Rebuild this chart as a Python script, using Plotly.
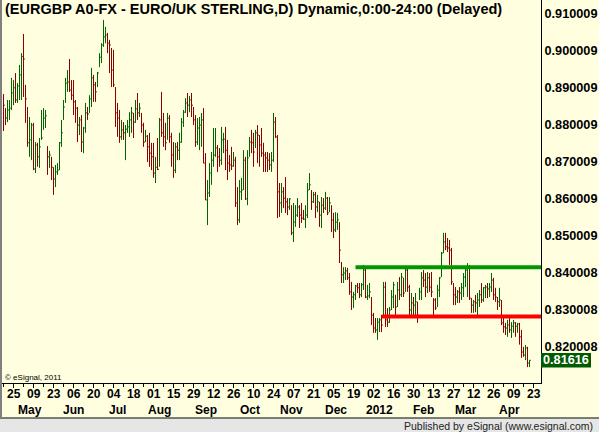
import plotly.graph_objects as go
import pandas as pd

# ---------------- data ----------------
START = "2011-04-18"
CAL_END = "2012-04-30"

HIGH = [
0.8883,0.8845,0.8867,0.8867,0.8927,0.8921,0.8940,0.8913,0.8962,0.8994,
0.9046,0.8908,0.8848,0.8821,0.8805,0.8805,0.8753,0.8751,0.8764,0.8840,
0.8845,0.8840,0.8742,0.8729,0.8713,0.8685,0.8691,0.8696,0.8753,0.8813,
0.8867,0.8927,0.8948,0.8978,0.8921,0.8921,0.8867,0.8848,0.8821,0.8826,
0.8794,0.8859,0.8848,0.8880,0.8954,0.8935,0.8916,0.8943,0.8994,0.9021,
0.9084,0.9065,0.9049,0.9030,0.9008,0.9003,0.8902,0.8859,0.8840,0.8813,
0.8807,0.8799,0.8813,0.8834,0.8848,0.8832,0.8867,0.8886,0.8859,0.8832,
0.8805,0.8786,0.8772,0.8778,0.8751,0.8751,0.8713,0.8764,0.8818,0.8889,
0.8832,0.8805,0.8832,0.8826,0.8778,0.8753,0.8751,0.8753,0.8778,0.8818,
0.8840,0.8872,0.8886,0.8878,0.8886,0.8848,0.8826,0.8818,0.8821,0.8832,
0.8845,0.8723,0.8650,0.8696,0.8726,0.8791,0.8791,0.8745,0.8737,0.8794,
0.8778,0.8794,0.8759,0.8718,0.8740,0.8726,0.8713,0.8631,0.8650,0.8656,
0.8731,0.8713,0.8731,0.8767,0.8786,0.8778,0.8786,0.8799,0.8772,0.8791,
0.8751,0.8726,0.8726,0.8723,0.8726,0.8832,0.8821,0.8772,0.8642,0.8642,
0.8631,0.8658,0.8601,0.8601,0.8582,0.8588,0.8582,0.8601,0.8582,0.8588,
0.8569,0.8582,0.8642,0.8669,0.8623,0.8618,0.8618,0.8610,0.8591,0.8604,
0.8601,0.8618,0.8604,0.8604,0.8582,0.8561,0.8563,0.8561,0.8536,0.8428,
0.8414,0.8414,0.8412,0.8398,0.8374,0.8347,0.8366,0.8371,0.8371,0.8371,
0.8420,0.8414,0.8366,0.8371,0.8333,0.8290,0.8276,0.8276,0.8276,0.8284,
0.8374,0.8374,0.8303,0.8306,0.8352,0.8374,0.8339,0.8374,0.8387,0.8398,
0.8385,0.8412,0.8412,0.8366,0.8344,0.8333,0.8344,0.8320,0.8358,0.8401,
0.8406,0.8398,0.8401,0.8398,0.8401,0.8330,0.8330,0.8366,0.8387,0.8455,
0.8507,0.8507,0.8493,0.8488,0.8466,0.8371,0.8360,0.8352,0.8360,0.8371,
0.8398,0.8414,0.8425,0.8420,0.8330,0.8325,0.8339,0.8344,0.8352,0.8371,
0.8360,0.8366,0.8371,0.8371,0.8398,0.8385,0.8358,0.8333,0.8358,0.8325,
0.8279,0.8263,0.8271,0.8276,0.8265,0.8271,0.8265,0.8263,0.8263,0.8244,
0.8198,0.8203,0.8198,0.8162,
]

LOW = [
0.8783,0.8799,0.8807,0.8813,0.8840,0.8853,0.8859,0.8859,0.8867,0.8867,
0.8875,0.8805,0.8740,0.8713,0.8704,0.8677,0.8669,0.8686,0.8683,0.8759,
0.8786,0.8791,0.8664,0.8683,0.8650,0.8610,0.8631,0.8664,0.8677,0.8740,
0.8813,0.8859,0.8889,0.8889,0.8867,0.8826,0.8805,0.8753,0.8772,0.8726,
0.8723,0.8778,0.8813,0.8832,0.8848,0.8862,0.8862,0.8902,0.8956,0.8967,
0.9011,0.9021,0.8994,0.8940,0.8902,0.8902,0.8794,0.8767,0.8751,0.8759,
0.8759,0.8704,0.8778,0.8767,0.8778,0.8764,0.8805,0.8813,0.8821,0.8778,
0.8740,0.8753,0.8699,0.8686,0.8677,0.8656,0.8642,0.8677,0.8686,0.8767,
0.8740,0.8731,0.8759,0.8751,0.8686,0.8656,0.8669,0.8704,0.8704,0.8751,
0.8794,0.8832,0.8821,0.8834,0.8821,0.8799,0.8740,0.8745,0.8731,0.8740,
0.8696,0.8596,0.8528,0.8604,0.8637,0.8686,0.8713,0.8672,0.8686,0.8691,
0.8723,0.8677,0.8650,0.8672,0.8677,0.8686,0.8577,0.8528,0.8534,0.8596,
0.8623,0.8596,0.8582,0.8713,0.8723,0.8686,0.8737,0.8696,0.8686,0.8713,
0.8672,0.8672,0.8672,0.8677,0.8672,0.8699,0.8764,0.8547,0.8550,0.8561,
0.8574,0.8561,0.8555,0.8569,0.8501,0.8482,0.8523,0.8550,0.8520,0.8534,
0.8542,0.8520,0.8547,0.8623,0.8569,0.8588,0.8547,0.8563,0.8523,0.8520,
0.8561,0.8569,0.8555,0.8563,0.8509,0.8493,0.8509,0.8515,0.8425,0.8371,
0.8371,0.8379,0.8379,0.8339,0.8298,0.8303,0.8325,0.8344,0.8330,0.8333,
0.8352,0.8330,0.8325,0.8330,0.8257,0.8236,0.8236,0.8217,0.8238,0.8238,
0.8279,0.8252,0.8252,0.8263,0.8298,0.8303,0.8284,0.8306,0.8325,0.8333,
0.8333,0.8347,0.8347,0.8276,0.8279,0.8276,0.8279,0.8263,0.8325,0.8325,
0.8360,0.8333,0.8344,0.8347,0.8333,0.8276,0.8298,0.8306,0.8333,0.8387,
0.8452,0.8460,0.8455,0.8420,0.8366,0.8311,0.8311,0.8317,0.8317,0.8325,
0.8333,0.8360,0.8333,0.8325,0.8290,0.8290,0.8292,0.8279,0.8306,0.8317,
0.8320,0.8330,0.8330,0.8333,0.8347,0.8325,0.8320,0.8298,0.8306,0.8257,
0.8236,0.8230,0.8225,0.8236,0.8222,0.8236,0.8225,0.8236,0.8204,0.8168,
0.8171,0.8162,0.8143,0.8143,
]

CLOSE = [
0.8853,0.8818,0.8840,0.8845,0.8886,0.8900,0.8867,0.8905,0.8935,0.8985,
0.8978,0.8870,0.8751,0.8759,0.8799,0.8680,0.8745,0.8713,0.8740,0.8764,
0.8818,0.8824,0.8713,0.8718,0.8685,0.8653,0.8672,0.8677,0.8751,0.8778,
0.8848,0.8913,0.8916,0.8894,0.8880,0.8862,0.8845,0.8799,0.8813,0.8753,
0.8791,0.8832,0.8829,0.8870,0.8927,0.8908,0.8889,0.8940,0.8983,0.9016,
0.9038,0.9043,0.9021,0.9016,0.8948,0.8908,0.8832,0.8818,0.8767,0.8786,
0.8778,0.8788,0.8794,0.8813,0.8832,0.8807,0.8843,0.8832,0.8845,0.8799,
0.8753,0.8769,0.8740,0.8723,0.8713,0.8669,0.8685,0.8679,0.8813,0.8778,
0.8767,0.8751,0.8818,0.8767,0.8718,0.8677,0.8740,0.8731,0.8753,0.8807,
0.8834,0.8859,0.8853,0.8867,0.8853,0.8813,0.8753,0.8791,0.8799,0.8813,
0.8696,0.8596,0.8615,0.8669,0.8704,0.8718,0.8737,0.8713,0.8704,0.8759,
0.8761,0.8731,0.8696,0.8691,0.8688,0.8704,0.8588,0.8542,0.8618,0.8623,
0.8704,0.8599,0.8710,0.8753,0.8751,0.8726,0.8778,0.8772,0.8745,0.8723,
0.8718,0.8710,0.8704,0.8691,0.8704,0.8807,0.8767,0.8618,0.8588,0.8618,
0.8601,0.8591,0.8577,0.8599,0.8507,0.8536,0.8555,0.8577,0.8555,0.8547,
0.8544,0.8555,0.8623,0.8637,0.8591,0.8610,0.8577,0.8591,0.8555,0.8582,
0.8574,0.8601,0.8561,0.8588,0.8542,0.8515,0.8536,0.8542,0.8460,0.8393,
0.8398,0.8404,0.8385,0.8347,0.8333,0.8339,0.8363,0.8358,0.8339,0.8366,
0.8406,0.8333,0.8336,0.8347,0.8284,0.8249,0.8244,0.8265,0.8271,0.8257,
0.8360,0.8271,0.8265,0.8298,0.8333,0.8366,0.8306,0.8352,0.8339,0.8387,
0.8344,0.8406,0.8360,0.8298,0.8317,0.8311,0.8320,0.8284,0.8347,0.8385,
0.8379,0.8360,0.8385,0.8360,0.8347,0.8325,0.8303,0.8352,0.8385,0.8452,
0.8482,0.8469,0.8466,0.8460,0.8374,0.8339,0.8333,0.8347,0.8344,0.8358,
0.8387,0.8406,0.8412,0.8330,0.8311,0.8320,0.8317,0.8325,0.8339,0.8325,
0.8358,0.8360,0.8355,0.8360,0.8379,0.8339,0.8333,0.8320,0.8325,0.8263,
0.8252,0.8249,0.8257,0.8244,0.8254,0.8263,0.8254,0.8260,0.8225,0.8184,
0.8176,0.8195,0.8154,0.81616,
]

TICK_DATES = ["2011-04-25", "2011-05-09", "2011-05-23", "2011-06-06", "2011-06-20",
              "2011-07-04", "2011-07-18", "2011-08-01", "2011-08-15", "2011-08-29",
              "2011-09-12", "2011-09-26", "2011-10-10", "2011-10-24", "2011-11-07",
              "2011-11-21", "2011-12-05", "2011-12-19", "2012-01-02", "2012-01-16",
              "2012-01-30", "2012-02-13", "2012-02-27", "2012-03-12", "2012-03-26",
              "2012-04-09", "2012-04-23"]
TICK_TEXT = ["25", "09", "23", "06", "20", "04", "18", "01", "15", "29", "12", "26", "10",
             "24", "07", "21", "05", "19", "02", "16", "30", "13", "27", "12", "26", "09", "23"]

MONTH_LABELS = ["May", "Jun", "Jul", "Aug", "Sep", "Oct", "Nov", "Dec", "2012", "Feb", "Mar", "Apr"]
MONTH_STARTS = ["2011-05-02", "2011-06-01", "2011-07-01", "2011-08-01", "2011-09-01",
                "2011-10-03", "2011-11-01", "2011-12-01", "2012-01-02", "2012-02-01",
                "2012-03-01", "2012-04-02"]

Y_TICKS = [0.910009, 0.900009, 0.890009, 0.880009, 0.870009,
           0.860009, 0.850009, 0.840008, 0.830008, 0.820008]
Y_TICK_TEXT = ["0.910009", "0.900009", "0.890009", "0.880009", "0.870009",
               "0.860009", "0.850009", "0.840008", "0.830008", "0.820008"]

LAST_PRICE = 0.81616
RESIST_LEVEL = 0.8414
RESIST_START = "2011-12-20"
SUPPORT_LEVEL = 0.8280
SUPPORT_START = "2012-01-06"

TITLE = "(EURGBP A0-FX - EURO/UK STERLING,D) Dynamic,0:00-24:00 (Delayed)"

# ---------------- construction ----------------
cal = pd.bdate_range(START, CAL_END)
pos = {d.strftime("%Y-%m-%d"): k for k, d in enumerate(cal)}

W, H = 599, 432
ML, MR, MT, MB = 2, 58, 0, 49
PW = W - ML - MR
PH = H - MT - MB
YMIN, YMAX = 0.8100, 0.9138


def px(X):
    return (X - ML) / PW


def py(Y):
    return (MT + PH - Y) / PH


def pprice(v):
    return (v - YMIN) / (YMAX - YMIN)


BG = "#FFFFE0"
UP = "#006400"
DN = "#8B0000"
FONT = "Liberation Sans, Arial, sans-serif"

ux, uy, dx, dy = [], [], [], []
for i in range(len(CLOSE)):
    prev = CLOSE[i - 1] if i > 0 else CLOSE[i] + 1
    up = CLOSE[i] > prev
    xs, ys = (ux, uy) if up else (dx, dy)
    xs += [i, i, None, i, i + 0.7, None]
    ys += [LOW[i], HIGH[i], None, CLOSE[i], CLOSE[i], None]

fig = go.Figure()
fig.add_trace(go.Scatter(x=dx, y=dy, mode="lines", line=dict(color=DN, width=1),
                         hoverinfo="skip", showlegend=False))
fig.add_trace(go.Scatter(x=ux, y=uy, mode="lines", line=dict(color=UP, width=1),
                         hoverinfo="skip", showlegend=False))

major = [pos[d] for d in TICK_DATES]
minor = [m - 5 for m in major]

XMIN = -0.75
XMAX = XMIN + PW / 2.0

fig.update_layout(
    width=W, height=H,
    margin=dict(l=ML, r=MR, t=MT, b=MB, pad=0),
    paper_bgcolor=BG, plot_bgcolor=BG,
    showlegend=False,
    xaxis=dict(
        range=[XMIN, XMAX], tickmode="array", tickvals=major, showticklabels=False,
        ticks="outside", ticklen=4, tickwidth=1, tickcolor="black",
        showline=True, linecolor="black", linewidth=1,
        showgrid=False, zeroline=False,
        minor=dict(tickvals=minor, ticks="outside", ticklen=3, tickcolor="black", showgrid=False),
        fixedrange=True,
    ),
    yaxis=dict(
        side="right", range=[YMIN, YMAX], tickmode="array",
        tickvals=Y_TICKS, ticktext=Y_TICK_TEXT, ticks="",
        showline=True, linecolor="black", linewidth=1,
        showgrid=False, zeroline=False,
        tickfont=dict(family=FONT, size=12.7, color="black", weight="bold"),
        fixedrange=True,
    ),
)

box_half = 7.2 / PH
shapes = [
    dict(type="line", xref="x", yref="y", x0=pos[RESIST_START], x1=XMAX,
         y0=RESIST_LEVEL, y1=RESIST_LEVEL, line=dict(color="#009600", width=4)),
    dict(type="line", xref="x", yref="y", x0=pos[SUPPORT_START], x1=XMAX,
         y0=SUPPORT_LEVEL, y1=SUPPORT_LEVEL, line=dict(color="#FF0000", width=4)),
    dict(type="rect", xref="paper", yref="paper", x0=1.0, x1=px(591),
         y0=pprice(LAST_PRICE) - box_half, y1=pprice(LAST_PRICE) + box_half,
         fillcolor="#005A00", line=dict(width=0), layer="above"),
    dict(type="rect", xref="paper", yref="paper", x0=px(0), x1=px(W), y0=py(418.5), y1=py(H),
         fillcolor="#E6E6E6", line=dict(width=0), layer="above"),
    dict(type="line", xref="paper", yref="paper", x0=px(0), x1=px(W), y0=py(418), y1=py(418),
         line=dict(color="black", width=1)),
    dict(type="line", xref="paper", yref="paper", x0=px(1), x1=px(1), y0=py(0), y1=py(418),
         line=dict(color="#808080", width=2)),
]

annotations = [
    dict(text=TITLE, xref="paper", yref="paper", x=px(3), y=py(9), xanchor="left",
         yanchor="middle", showarrow=False,
         font=dict(family=FONT, size=14.5, color="black", weight="bold")),
    dict(text="© eSignal, 2011", xref="paper", yref="paper", x=px(3), y=py(377),
         xanchor="left", yanchor="middle", showarrow=False,
         font=dict(family=FONT, size=8, color="black")),
    dict(text="0.81616", xref="paper", yref="paper", x=(1.0 + px(591)) / 2,
         y=pprice(LAST_PRICE), xanchor="center", yanchor="middle", showarrow=False,
         borderpad=0,
         font=dict(family=FONT, size=12.7, color="white", weight="bold")),
    dict(text="Published by eSignal (www.esignal.com)", xref="paper", yref="paper",
         x=px(595), y=py(425.5), xanchor="right", yanchor="middle", showarrow=False,
         font=dict(family=FONT, size=10.5, color="#222222")),
]
for lab, td in zip(TICK_TEXT, TICK_DATES):
    annotations.append(dict(text=lab, xref="x", yref="paper", x=pos[td], y=py(394),
                            xanchor="center", yanchor="middle", showarrow=False, borderpad=0,
                            font=dict(family=FONT, size=12, color="black", weight="bold")))
for lab, ms in zip(MONTH_LABELS, MONTH_STARTS):
    annotations.append(dict(text=lab, xref="x", yref="paper", x=pos[ms] + 3, y=py(410),
                            xanchor="center", yanchor="middle", showarrow=False, borderpad=0,
                            font=dict(family=FONT, size=12, color="black", weight="bold")))

fig.update_layout(shapes=shapes, annotations=annotations)
fig.write_html("out.html")
